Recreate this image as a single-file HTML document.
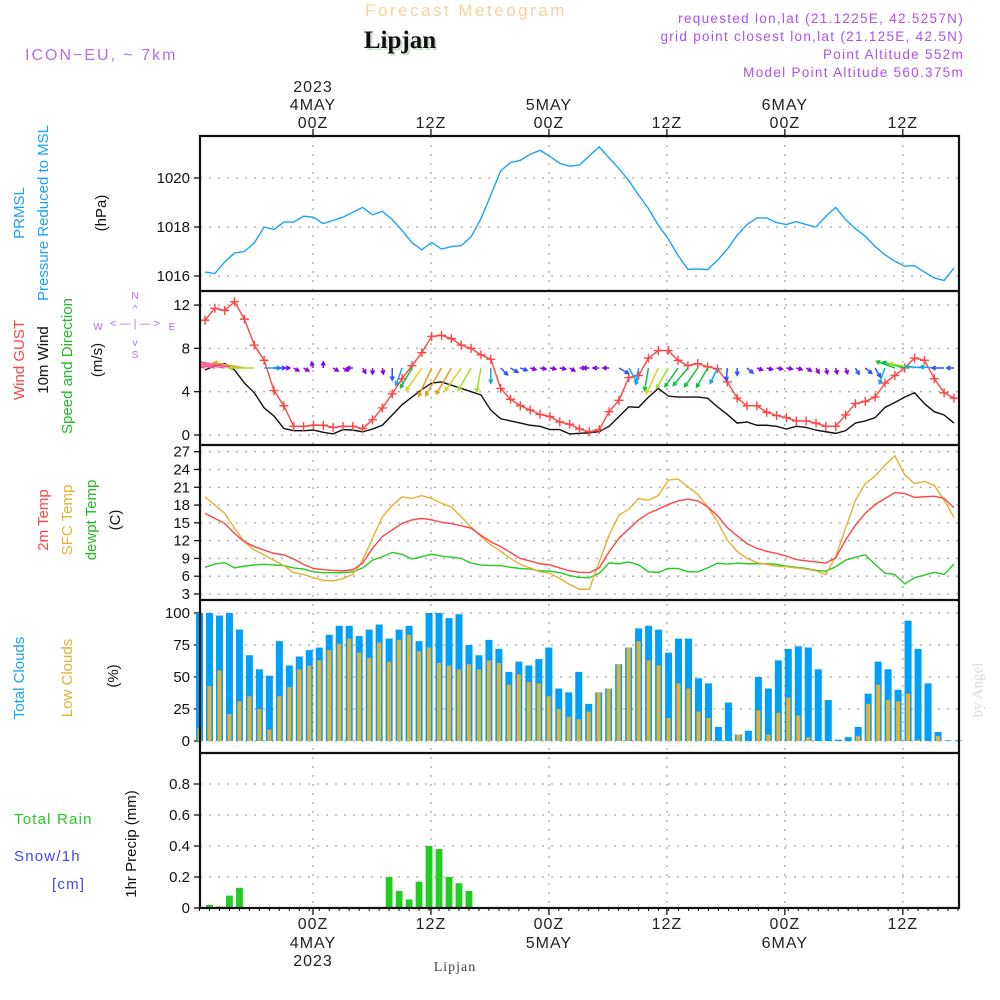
<!DOCTYPE html>
<html><head><meta charset="utf-8"><style>
html,body{margin:0;padding:0;background:#fff;}
svg{display:block;font-family:"Liberation Sans",sans-serif;}
</style></head><body>
<svg id="chart" width="1000" height="1000" viewBox="0 0 1000 1000" xmlns="http://www.w3.org/2000/svg">
<defs><clipPath id="plotclip"><rect x="200" y="291" width="759" height="154"/></clipPath></defs>
<rect width="1000" height="1000" fill="#fff"/>
<text x="466" y="16" text-anchor="middle" font-size="17" fill="#f4d49c" letter-spacing="2.5">Forecast Meteogram</text>
<text x="402" y="50" text-anchor="middle" font-size="25" font-weight="bold" font-family="Liberation Serif,serif" fill="#cfe0cf">Lipjan</text>
<text x="400" y="48" text-anchor="middle" font-size="25" font-weight="bold" font-family="Liberation Serif,serif" fill="#111">Lipjan</text>
<text x="25" y="60" font-size="16" fill="#b36ee6" letter-spacing="2">ICON−EU, ~ 7km</text>
<g font-size="13.5" fill="#b050e8" text-anchor="end" letter-spacing="1.3">
<text x="964" y="23">requested lon,lat (21.1225E, 42.5257N)</text>
<text x="964" y="41">grid point closest lon,lat (21.125E, 42.5N)</text>
<text x="964" y="59">Point Altitude 552m</text>
<text x="964" y="77">Model Point Altitude 560.375m</text>
</g>
<g font-size="15">
<text transform="translate(24,213) rotate(-90)" text-anchor="middle" fill="#1aa3f5">PRMSL</text>
<text transform="translate(48,213) rotate(-90)" text-anchor="middle" fill="#1aa3f5">Pressure Reduced to MSL</text>
<text transform="translate(106,213) rotate(-90)" text-anchor="middle" fill="#111">(hPa)</text>
<text transform="translate(24,360) rotate(-90)" text-anchor="middle" fill="#ff4444">Wind GUST</text>
<text transform="translate(48,360) rotate(-90)" text-anchor="middle" fill="#111">10m Wind</text>
<text transform="translate(72,366) rotate(-90)" text-anchor="middle" fill="#22bb22">Speed and Direction</text>
<text transform="translate(102,360) rotate(-90)" text-anchor="middle" fill="#111">(m/s)</text>
<text transform="translate(48,520) rotate(-90)" text-anchor="middle" fill="#ff4444">2m Temp</text>
<text transform="translate(72,520) rotate(-90)" text-anchor="middle" fill="#e6b030">SFC Temp</text>
<text transform="translate(96,520) rotate(-90)" text-anchor="middle" fill="#22bb22">dewpt Temp</text>
<text transform="translate(120,520) rotate(-90)" text-anchor="middle" fill="#111">(C)</text>
<text transform="translate(24,678) rotate(-90)" text-anchor="middle" fill="#1aa3f5">Total Clouds</text>
<text transform="translate(72,678) rotate(-90)" text-anchor="middle" fill="#e6b030">Low Clouds</text>
<text transform="translate(118,676) rotate(-90)" text-anchor="middle" fill="#111">(%)</text>
<text transform="translate(136,844) rotate(-90)" text-anchor="middle" fill="#111">1hr Precip (mm)</text>
<text x="14" y="824" fill="#22cc22" letter-spacing="1.2">Total   Rain</text>
<text x="14" y="861" fill="#4444ff" letter-spacing="1.2">Snow/1h</text>
<text x="52" y="889" fill="#4444ff" letter-spacing="1.2">[cm]</text>
</g>
<g fill="#b36ee6" stroke="none" font-size="10" text-anchor="middle">
<text x="135" y="299">N</text><text x="135" y="358">S</text><text x="98" y="330">W</text><text x="172" y="330">E</text>
<text x="135" y="327" font-size="11">&lt; — | — &gt;</text>
<text x="135" y="312" font-size="10">^</text><text x="135" y="346" font-size="10">v</text>
</g>
<text transform="translate(982,690) rotate(-90)" text-anchor="middle" font-size="15" font-family="Liberation Serif,serif" fill="#d8ddd8">by Angel</text>
<text x="455" y="971" text-anchor="middle" font-size="14" font-family="Liberation Serif,serif" fill="#444" letter-spacing="1">Lipjan</text>
<g id="g"></g>
</svg>
<script>
const pressure=[1016.16,1016.1,1016.57,1016.94,1017.0,1017.35,1018.0,1017.9,1018.2,1018.2,1018.44,1018.4,1018.14,1018.27,1018.4,1018.6,1018.8,1018.5,1018.64,1018.3,1017.86,1017.36,1017.07,1017.37,1017.1,1017.2,1017.24,1017.6,1018.34,1019.3,1020.29,1020.63,1020.72,1020.97,1021.13,1020.88,1020.6,1020.48,1020.53,1020.9,1021.27,1020.82,1020.38,1019.9,1019.3,1018.75,1018.07,1017.52,1016.84,1016.27,1016.29,1016.26,1016.64,1017.1,1017.66,1018.1,1018.37,1018.37,1018.18,1018.1,1018.22,1018.1,1018.0,1018.44,1018.8,1018.3,1017.93,1017.62,1017.2,1016.87,1016.6,1016.4,1016.42,1016.16,1015.92,1015.82,1016.33];
const gust=[10.6,11.7,11.5,12.3,10.7,8.3,6.9,4.1,2.7,0.8,0.8,0.9,0.9,0.7,0.8,0.8,0.6,1.4,2.5,3.8,5.2,6.4,7.6,9.1,9.2,8.9,8.3,8.0,7.4,7.0,4.3,3.3,2.7,2.3,1.9,1.7,1.2,1.0,0.55,0.3,0.5,2.15,3.2,5.3,5.5,7.1,7.8,7.8,6.9,6.4,6.6,6.3,6.1,4.9,3.4,2.7,2.7,2.1,1.8,1.6,1.3,1.3,1.1,0.8,0.8,1.85,2.9,3.1,3.5,4.8,5.5,6.2,7.1,6.9,5.2,3.9,3.4];
const wind10=[6.0,6.4,6.6,6.0,4.8,3.9,2.5,1.75,0.6,0.4,0.4,0.45,0.25,0.1,0.5,0.45,0.3,0.55,0.9,1.85,2.8,3.5,4.2,4.8,4.9,4.6,4.3,4.0,3.7,2.3,1.5,1.3,1.1,0.9,0.8,0.5,0.5,0.1,0.15,0.2,0.3,0.8,1.7,2.6,2.55,3.5,4.3,3.6,3.5,3.5,3.5,3.4,2.6,1.9,1.1,1.2,0.9,0.9,0.8,0.55,0.8,0.7,0.45,0.3,0.15,0.4,1.1,1.3,1.6,2.55,3.0,3.5,3.9,2.9,2.15,1.85,1.1];
const windDir=[170,170,170,170,170,180,0,0,0,-30,-30,110,90,-30,-30,180,-60,-90,-80,-90,-110,-120,-125,-115,-120,-120,-125,-120,-100,-90,-45,-30,-20,-15,-10,-10,-10,-30,0,180,180,180,-30,-60,-100,-100,-115,-120,-125,-130,-125,-120,-115,-95,-90,-40,-20,-15,-10,-10,-15,-30,-60,-75,-75,-70,-60,-40,-60,-110,160,165,170,175,175,180,180];
const temp2m=[16.6,15.75,14.9,13.2,11.8,11.0,10.4,9.85,9.6,8.9,8.0,7.3,7.1,7.0,6.9,7.1,8.2,10.7,12.7,13.8,14.9,15.5,15.75,15.5,15.1,14.85,14.5,14.1,12.9,11.8,11.0,10.0,9.0,8.55,8.1,7.9,7.4,6.9,6.65,6.6,7.4,10.1,12.4,13.95,15.5,16.6,17.3,18.1,18.7,19.0,18.7,17.7,16.2,14.2,12.8,11.5,10.7,10.2,9.85,9.4,8.8,8.6,8.4,8.2,9.1,12.1,14.6,16.6,18.1,19.1,20.1,19.95,19.3,19.4,19.5,19.1,17.55];
const tempSfc=[19.4,18.0,16.6,14.1,11.8,10.4,9.6,8.7,7.8,6.6,6.3,5.75,5.3,5.2,5.6,6.3,8.7,12.4,16.0,17.9,19.4,19.1,19.6,19.1,18.3,17.7,16.0,14.3,12.7,11.3,10.2,9.0,8.0,7.4,6.75,6.5,5.6,4.6,3.8,3.8,8.4,12.9,16.3,17.3,19.1,18.8,19.6,22.2,22.4,21.1,19.8,17.7,15.2,12.1,10.2,9.0,8.3,8.0,7.7,7.6,7.4,7.2,6.9,6.3,9.3,14.1,18.8,21.6,22.9,24.75,26.3,23.1,21.6,22.0,21.3,18.8,15.9];
const dewpt=[7.5,8.05,8.3,7.4,7.7,7.9,8.0,7.9,7.8,7.4,7.2,6.75,6.6,6.6,6.6,6.75,7.4,8.7,9.3,10.0,9.7,8.9,9.3,9.7,9.4,9.2,9.0,8.2,7.9,7.8,7.8,7.5,7.3,7.2,6.9,6.85,6.6,6.1,5.8,5.75,6.5,8.25,8.1,8.4,7.9,6.75,6.65,7.3,7.3,6.75,6.75,7.4,8.2,8.05,8.2,8.1,8.1,8.1,8.0,7.7,7.5,7.3,7.0,6.85,7.6,8.7,9.2,9.6,8.0,6.5,6.3,4.7,5.75,6.2,6.65,6.3,8.05];
const totalClouds=[100,100,98,100,87,67,56,51,78,59,66,71,73,83,90,90,82,87,91,80,87,90,78,100,100,96,99,75,67,79,72,54,62,59,64,73,41,38,54,29,38,41,60,73,88,90,87,69,80,80,49,45,11,30,5,8,50,41,63,72,74,73,56,32,1,3,11,37,62,56,40,94,72,45,7,0.5,0.5];
const lowClouds=[10,43,55,21,31,35,25,9,35,42,56,59,63,71,76,80,69,65,77,62,79,83,70,73,61,59,56,60,56,63,61,44,52,46,45,35,25,19,17,23,38,41,60,73,78,63,59,18,45,41,23,18,0,0,5,0,24,5,22,34,20,3,0,0,0,0,4,29,44,32,31,37,1,0,4,0,0];
const rain=[0,0.02,0.01,0.08,0.13,0,0,0,0,0,0,0,0,0,0,0,0,0,0,0.2,0.11,0.055,0.17,0.40,0.38,0.2,0.16,0.11];
const pTicks=[1016,1018,1020];
const wTicks=[0,4,8,12];
const tTicks=[3,6,9,12,15,18,21,24,27];
const cTicks=[0,25,50,75,100];
const rTicks=[0,0.2,0.4,0.6,0.8];
const tickHours=[0,12,24,36,48,60];
const tickHourLabels=["00Z","12Z","00Z","12Z","00Z","12Z"];
const dayLabels={0:["4MAY","2023"],24:["5MAY"],48:["6MAY"]};

const NS="http://www.w3.org/2000/svg";
const G=document.getElementById('g');
function el(tag,attrs,parent){const e=document.createElementNS(NS,tag);for(const k in attrs)e.setAttribute(k,attrs[k]);(parent||G).appendChild(e);return e;}
const xL=i=>205+i*9.855;
const xB=i=>199.5+i*9.98;
const xH=h=>313+h*9.83;
const yP=v=>276-(v-1016)*24.5;
const yW=v=>435-v*10.83;
const yT=v=>594-(v-3)*5.93;
const yC=v=>741-v*1.28;
const yR=v=>908-v*155;
const L=200,R=959;

const grid=el('g',{stroke:'#aaa','stroke-width':1.3,'stroke-dasharray':'2,7'});


function hgrid(vals,f,fmt){vals.forEach(v=>{const y=f(v);el('line',{x1:L,x2:R,y1:y,y2:y},grid);
 const t=el('text',{x:190,y:y+5,'text-anchor':'end','font-size':15,fill:'#111'});t.textContent=fmt?fmt(v):v;
 
 
 el('line',{x1:194,x2:L,y1:y,y2:y,stroke:'#111','stroke-width':1.3});});}
hgrid(pTicks,yP);hgrid(wTicks,yW);hgrid(tTicks,yT);hgrid(cTicks,yC);hgrid(rTicks,yR,v=>v===0?'0':v.toFixed(1));
tickHours.forEach((h,k)=>{const x=xH(h);el('line',{x1:x,x2:x,y1:136,y2:908},grid);
 el('line',{x1:x,x2:x,y1:129,y2:136,stroke:'#111','stroke-width':1.3});
 el('line',{x1:x,x2:x,y1:908,y2:915,stroke:'#111','stroke-width':1.3});
 const t=el('text',{x:x,y:128,'text-anchor':'middle','font-size':16,fill:'#222','letter-spacing':1});t.textContent=tickHourLabels[k];
 
 
 const b=el('text',{x:x,y:929,'text-anchor':'middle','font-size':16,fill:'#222','letter-spacing':1});b.textContent=tickHourLabels[k];
 
 
 const d=dayLabels[h];
 if(d){d.forEach((s,j)=>{const a=el('text',{x:x,y:110-j*18,'text-anchor':'middle','font-size':16,fill:'#222','letter-spacing':1});a.textContent=s;
   
   
   const c=el('text',{x:x,y:948+j*18,'text-anchor':'middle','font-size':16,fill:'#222','letter-spacing':1});c.textContent=s;
   
   });}
});
for(let i=0;i<totalClouds.length;i++){el('line',{x1:xB(i),x2:xB(i),y1:908,y2:911,stroke:'#111','stroke-width':1});}

totalClouds.forEach((v,i)=>{const r=el('rect',{x:xB(i)-3.5,y:yC(v),width:7,height:741-yC(v),fill:'#009ffa'});
 
 });
lowClouds.forEach((v,i)=>{const r=el('rect',{x:xB(i)-2,y:yC(v),width:4,height:741-yC(v),fill:'#e6b030'});
 
 });
rain.forEach((v,i)=>{if(v<=0)return;const r=el('rect',{x:xB(i)-3.4,y:yR(v),width:6.8,height:908-yR(v),fill:'#22cc22'});
 
 });

function line(arr,xf,yf,color,name,w){const p=el('polyline',{points:arr.map((v,i)=>xf(i)+','+yf(v)).join(' '),fill:'none',stroke:color,'stroke-width':w||1.4});
 
 return p;}
line(pressure,xL,yP,'#1aa3f5','pressure-line');
line(wind10,xL,yW,'#111','wind-10m-line');
line(gust,xL,yW,'#ff4444','gust-line');
gust.forEach((v,i)=>{const x=xL(i),y=yW(v);const m=el('path',{d:`M${x-4.5},${y}H${x+4.5}M${x},${y-4.5}V${y+4.5}`,stroke:'#ff4444','stroke-width':1.4});
 
 });
line(dewpt,xL,yT,'#22cc22','dewpoint-line');
line(tempSfc,xL,yT,'#e6b030','sfc-temp-line');
line(temp2m,xL,yT,'#ff4444','temp-2m-line');

const arrows=el('g',{'clip-path':'url(#plotclip)'});


function spdColor(s){if(s<1)return'#8a00e6';if(s<2)return'#2a50ff';if(s<3)return'#10a8e8';if(s<3.6)return'#10c040';if(s<4.2)return'#a0e020';if(s<4.6)return'#e0d020';if(s<5.5)return'#e0a020';return'#ff5090';}
windDir.forEach((d,i)=>{const s=wind10[i];const len=Math.max(6,s*6.5);const a=d*Math.PI/180;
 const x0=xL(i),y0=368,x1=x0+Math.cos(a)*len,y1=y0-Math.sin(a)*len;const c=spdColor(s);
 const h=4,a1=Math.atan2(y0-y1,x0-x1);
 const g=el('g',{stroke:c,'stroke-width':1.5,fill:'none'},arrows);
 
 
 el('line',{x1:x0,y1:y0,x2:x1,y2:y1},g);
 el('path',{d:`M${x1+Math.cos(a1+0.5)*h},${y1+Math.sin(a1+0.5)*h}L${x1},${y1}L${x1+Math.cos(a1-0.5)*h},${y1+Math.sin(a1-0.5)*h}`},g);
});

const fr=el('g',{stroke:'#111','stroke-width':2.2,fill:'none'});


el('rect',{x:L,y:136,width:R-L,height:772},fr);
[291,445,600,753].forEach(y=>el('line',{x1:L,x2:R,y1:y,y2:y},fr));
</script>
</body></html>
